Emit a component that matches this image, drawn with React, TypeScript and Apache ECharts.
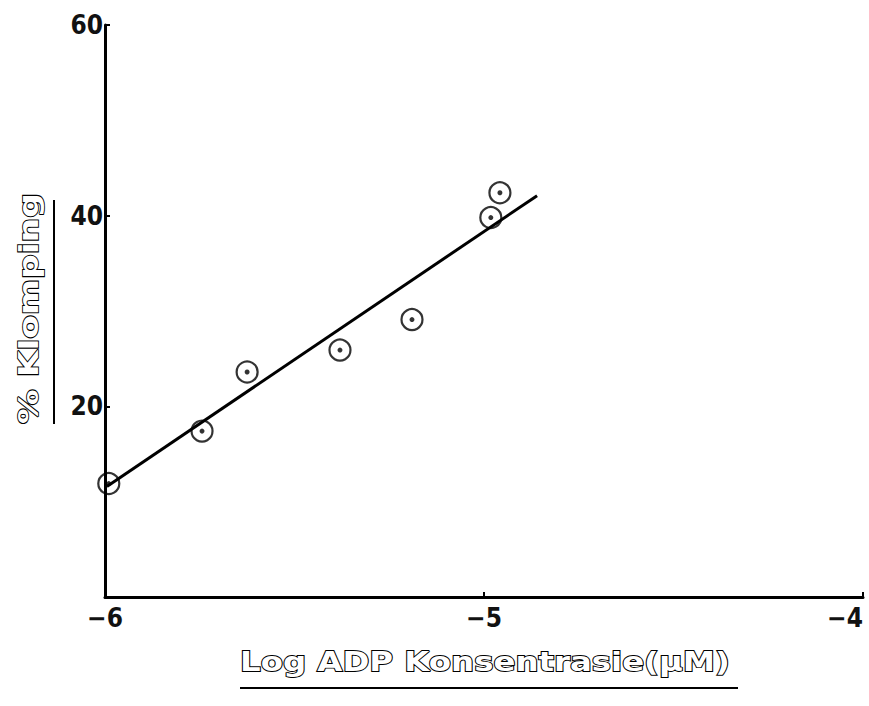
import React, { useEffect, useRef } from "react";
import * as echarts from "echarts";

const logAdp = [-5.99, -5.744, -5.625, -5.38, -5.19, -4.982, -4.958];
const klomping = [11.9, 17.4, 23.6, 25.9, 29.1, 39.8, 42.4];
const fitX = [-5.995, -4.86];
const fitY = [11.6, 42.1];
const xTitle = "Log ADP Konsentrasie(µM)";
const yTitle = "% Klomping";

export default function App() {
  const ref = useRef<HTMLDivElement>(null);
  useEffect(() => {
    if (!ref.current) return;
    const chart = echarts.init(ref.current, undefined, { renderer: "svg" });
    const pts = logAdp.map((x, i) => [x, klomping[i]]);
    const fit = fitX.map((x, i) => [x, fitY[i]]);
    const tickFont = {
      fontFamily: "DejaVu Sans Condensed",
      fontWeight: "bold" as const,
      fontSize: 26,
      color: "#111",
    };
    chart.setOption({
      animation: false,
      backgroundColor: "#fff",
      grid: { left: 105, right: 6, top: 25, bottom: 109, containLabel: false, outerBoundsMode: "none" },
      xAxis: {
        type: "value",
        min: -6,
        max: -4,
        interval: 1,
        splitLine: { show: false },
        axisLine: { show: true, onZero: false, lineStyle: { color: "#000", width: 3 } },
        axisTick: { show: true, inside: true, length: 5, lineStyle: { color: "#000", width: 2 } },
        axisLabel: {
          ...tickFont,
          margin: 8,
          alignMaxLabel: "right",
          formatter: (v: number) => "−" + Math.abs(v),
        },
      },
      yAxis: {
        type: "value",
        min: 0,
        max: 60,
        interval: 20,
        splitLine: { show: false },
        axisLine: { show: true, onZero: false, lineStyle: { color: "#000", width: 3 } },
        axisTick: { show: true, inside: true, length: 5, lineStyle: { color: "#000", width: 2 } },
        axisLabel: {
          ...tickFont,
          margin: 2,
          formatter: (v: number) => (v === 0 ? "" : String(v)),
        },
      },
      series: [
        {
          type: "line",
          data: fit,
          symbol: "none",
          lineStyle: { color: "#000", width: 3 },
          z: 2,
        },
        {
          type: "scatter",
          data: pts,
          symbol: "circle",
          symbolSize: 21,
          itemStyle: { color: "rgba(255,255,255,0)", borderColor: "#000", borderWidth: 2.2 },
          z: 3,
        },
        {
          type: "scatter",
          data: pts,
          symbol: "circle",
          symbolSize: 5,
          itemStyle: { color: "#000" },
          z: 4,
        },
      ],
      graphic: [
        {
          type: "text",
          x: 240,
          y: 648,
          scaleX: 1.2,
          style: {
            text: xTitle,
            fontFamily: "DejaVu Sans",
            fontWeight: "bold",
            fontSize: 27,
            fill: "#fff",
            stroke: "#000",
            lineWidth: 1.8,
          },
        },
        {
          type: "line",
          shape: { x1: 240, y1: 688, x2: 738, y2: 688 },
          style: { stroke: "#000", lineWidth: 2 },
        },
        {
          type: "text",
          x: 15,
          y: 424,
          rotation: Math.PI / 2,
          scaleX: 1.28,
          style: {
            text: yTitle,
            fontFamily: "DejaVu Sans",
            fontWeight: "bold",
            fontSize: 27,
            fill: "#fff",
            stroke: "#000",
            lineWidth: 1.8,
            align: "left",
            verticalAlign: "top",
          },
        },
        {
          type: "line",
          shape: { x1: 54, y1: 200, x2: 54, y2: 424 },
          style: { stroke: "#000", lineWidth: 2 },
        },
      ],
    });
    return () => chart.dispose();
  }, []);
  return (
    <div
      ref={ref}
      style={{ position: "fixed", left: 0, top: 0, width: 869, height: 706 }}
    />
  );
}
